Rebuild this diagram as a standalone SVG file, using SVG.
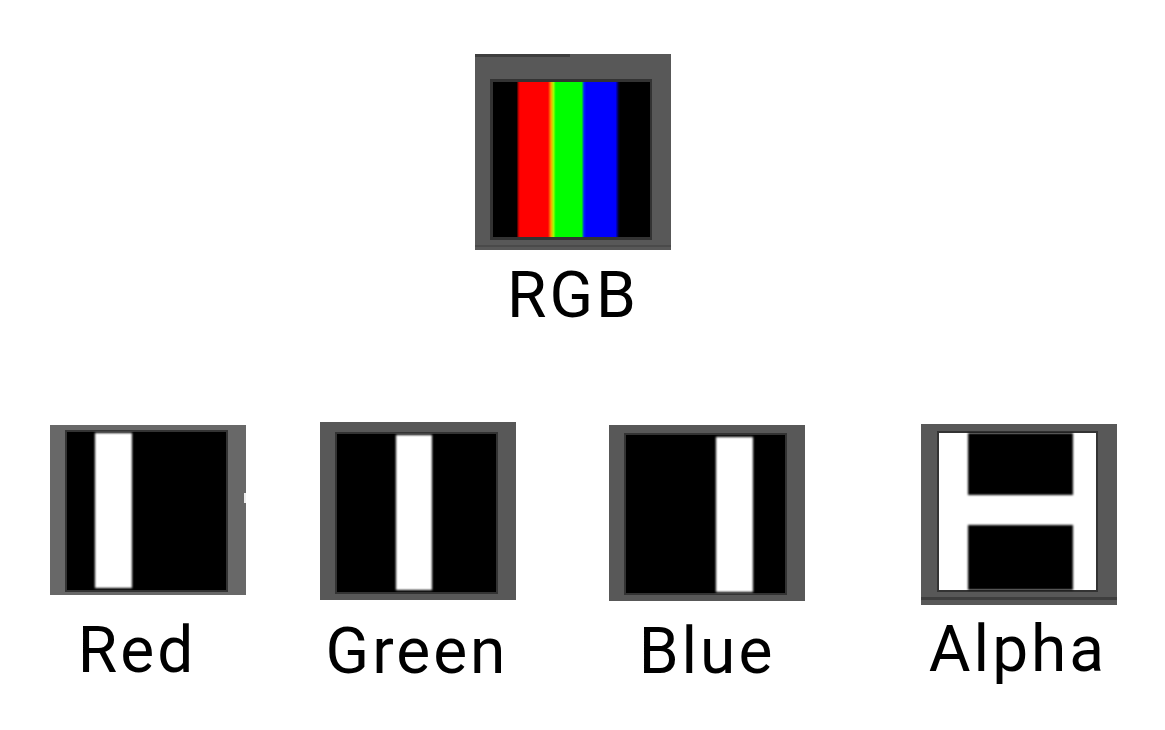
<svg xmlns="http://www.w3.org/2000/svg" width="1165" height="730" viewBox="0 0 1165 730">
<defs>
<style>
.lbl{font-family:Roboto,"Liberation Sans",sans-serif;font-size:64px;fill:#000;text-anchor:middle;letter-spacing:3px}
.frame{fill:#585858}
.edge{fill:#333}
.blk{fill:#000}
.wht{fill:#fff}
</style>
<filter id="soft" x="-10%" y="-10%" width="120%" height="120%"><feGaussianBlur stdDeviation="1"/></filter>
<linearGradient id="rgbg" x1="0" x2="1" y1="0" y2="0">
<stop offset="0" stop-color="#000"/>
<stop offset="0.15" stop-color="#000"/>
<stop offset="0.165" stop-color="#e00000"/>
<stop offset="0.175" stop-color="#ff0000"/>
<stop offset="0.35" stop-color="#ff0000"/>
<stop offset="0.37" stop-color="#ffa000"/>
<stop offset="0.385" stop-color="#a0ff00"/>
<stop offset="0.40" stop-color="#00ff00"/>
<stop offset="0.565" stop-color="#00ff00"/>
<stop offset="0.58" stop-color="#0020ff"/>
<stop offset="0.595" stop-color="#0000ff"/>
<stop offset="0.78" stop-color="#0000ff"/>
<stop offset="0.80" stop-color="#000030"/>
<stop offset="0.81" stop-color="#000"/>
<stop offset="1" stop-color="#000"/>
</linearGradient>
</defs>
<g id="rgb">
<rect class="frame" x="475" y="54" width="196" height="196"/>
<rect x="475" y="54" width="95" height="3" fill="#3e3e3e"/>
<rect x="475" y="245" width="196" height="2" fill="#4a4a4a"/>
<rect class="edge" x="490" y="79" width="162" height="161"/>
<rect x="493" y="82" width="157" height="155" fill="url(#rgbg)"/>
<text class="lbl" x="573" y="317">RGB</text>
</g>
<g id="red">
<rect x="50" y="425" width="196" height="170" fill="#686868"/>
<rect class="edge" x="65" y="430" width="163" height="162"/>
<rect class="blk" x="67" y="432" width="159" height="158"/>
<rect class="wht" x="95" y="433" width="37" height="155" filter="url(#soft)"/>
<rect x="244" y="493" width="2" height="10" fill="#eee"/>
<text class="lbl" x="137" y="672">Red</text>
</g>
<g id="green">
<rect class="frame" x="320" y="422" width="196" height="178"/>
<rect class="edge" x="335" y="432" width="163" height="162"/>
<rect class="blk" x="337" y="434" width="159" height="158"/>
<rect class="wht" x="396" y="435" width="36" height="155" filter="url(#soft)"/>
<text class="lbl" x="417" y="673">Green</text>
</g>
<g id="blue">
<rect class="frame" x="609" y="425" width="196" height="176"/>
<rect class="edge" x="624" y="433" width="163" height="162"/>
<rect class="blk" x="626" y="435" width="159" height="158"/>
<rect class="wht" x="716" y="437" width="37" height="155" filter="url(#soft)"/>
<text class="lbl" x="707" y="673">Blue</text>
</g>
<g id="alpha">
<rect class="frame" x="921" y="424" width="196" height="181"/>
<rect x="921" y="597" width="196" height="3" fill="#3e3e3e"/>
<rect class="edge" x="937" y="431" width="161" height="161"/>
<rect class="wht" x="939" y="433" width="157" height="157"/>
<rect class="blk" x="968" y="433" width="105" height="62" filter="url(#soft)"/>
<rect class="blk" x="968" y="525" width="105" height="65" filter="url(#soft)"/>
<text class="lbl" x="1018" y="671">Alpha</text>
</g>
<g id="connectors"/>
</svg>
